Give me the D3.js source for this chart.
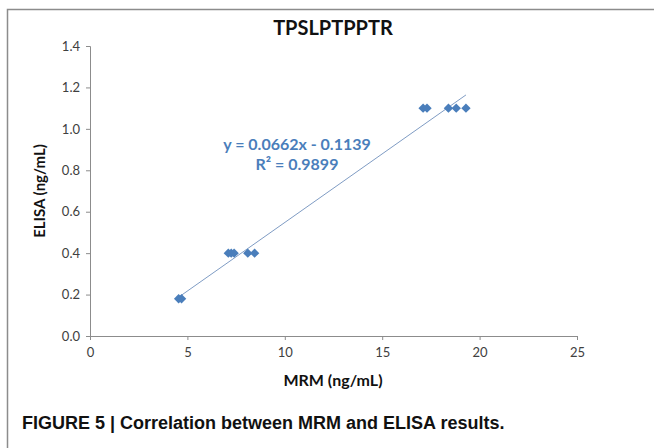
<!DOCTYPE html>
<html>
<head>
<meta charset="utf-8">
<script src="https://cdn.jsdelivr.net/npm/d3@7"></script>
<style>
  body { margin: 0; background: #fff; }
  text { font-family: Lato, "Open Sans", sans-serif; }
</style>
</head>
<body>
<div id="chart"></div>
<script>
// data
const mrmValues = [4.55, 4.7, 7.1, 7.25, 7.4, 8.1, 8.45, 17.1, 17.3, 18.4, 18.8, 19.3]
const elisaValues = [0.18, 0.18, 0.4, 0.4, 0.4, 0.4, 0.4, 1.1, 1.1, 1.1, 1.1, 1.1]
const xTicks = [0, 5, 10, 15, 20, 25]
const yTicks = [0, 0.2, 0.4, 0.6, 0.8, 1.0, 1.2, 1.4]
const slope = 0.0662
const intercept = -0.1139
const rSquared = 0.9899

const width = 654
const height = 448
const margin = { left: 90, right: 77, top: 46, bottom: 112 }

const svg = d3.select("#chart")
    .append("svg")
    .attr("width", width)
    .attr("height", height)

// frame of the figure (right/bottom edges cut off in the original)
svg.append("path")
    .attr("d", "M7.5," + height + " V9.5 H" + width)
    .attr("fill", "none")
    .attr("stroke", "#8c8c8c")
    .attr("stroke-width", 1.5)

const x = d3.scaleLinear().domain([0, 25]).range([margin.left, width - margin.right])
const y = d3.scaleLinear().domain([0, 1.4]).range([height - margin.bottom, margin.top])

const xAxis = svg.append("g")
    .attr("transform", "translate(0," + y(0) + ")")
    .call(d3.axisBottom(x).tickValues(xTicks).tickSize(4).tickPadding(8).tickFormat(d3.format("d")))
const yAxis = svg.append("g")
    .attr("transform", "translate(" + x(0) + ",0)")
    .call(d3.axisLeft(y).tickValues(yTicks).tickSize(4).tickPadding(6).tickFormat(d3.format(".1f")))

;[xAxis, yAxis].forEach(a => {
    a.select(".domain").attr("stroke", "#8c8c8c")
    a.selectAll(".tick line").attr("stroke", "#8c8c8c")
    a.selectAll(".tick text")
        .attr("fill", "#404040")
        .style("font-size", "13px")
        .style("font-family", "Lato, sans-serif")
})

// trendline between min and max x
const xr = d3.extent(mrmValues)
svg.append("line")
    .attr("x1", x(xr[0]))
    .attr("y1", y(slope * xr[0] + intercept))
    .attr("x2", x(xr[1]))
    .attr("y2", y(slope * xr[1] + intercept))
    .attr("stroke", "#7f9cc4")
    .attr("stroke-width", 1)

// excel style diamond = square turned 45 degrees
const diamond = d3.symbol().type(d3.symbolSquare).size(44)
svg.selectAll(".pt")
    .data(mrmValues)
    .enter()
    .append("path")
    .attr("class", "pt")
    .attr("d", diamond)
    .attr("transform", (d, i) => "translate(" + x(d) + "," + y(elisaValues[i]) + ") rotate(45)")
    .attr("fill", "#4a7ebb")

// equation
const eq = svg.append("text")
    .attr("x", 297)
    .attr("y", 150)
    .attr("text-anchor", "middle")
    .attr("fill", "#4a7ebb")
    .style("font-size", "16px")
    .style("font-weight", "bold")
eq.append("tspan").text("y = " + slope + "x - " + Math.abs(intercept))
eq.append("tspan").attr("x", 297).attr("dy", 20).text("R² = " + rSquared)

svg.append("text")
    .attr("x", 333)
    .attr("y", 35)
    .attr("text-anchor", "middle")
    .attr("fill", "#111")
    .style("font-size", "20px")
    .style("font-weight", "bold")
    .text("TPSLPTPPTR")

svg.append("text")
    .attr("x", 333)
    .attr("y", 386)
    .attr("text-anchor", "middle")
    .attr("fill", "#111")
    .style("font-size", "16px")
    .style("font-weight", "bold")
    .text("MRM (ng/mL)")

svg.append("text")
    .attr("transform", "translate(45," + y(0.7) + ") rotate(-90)")
    .attr("text-anchor", "middle")
    .attr("fill", "#111")
    .style("font-size", "15px")
    .style("font-weight", "bold")
    .text("ELISA (ng/mL)")

svg.append("text")
    .attr("x", 22)
    .attr("y", 429)
    .attr("fill", "#111")
    .style("font-family", "'Liberation Sans', Arial, sans-serif")
    .style("font-size", "18px")
    .style("font-weight", "bold")
    .text("FIGURE 5 | Correlation between MRM and ELISA results.")
</script>
</body>
</html>
